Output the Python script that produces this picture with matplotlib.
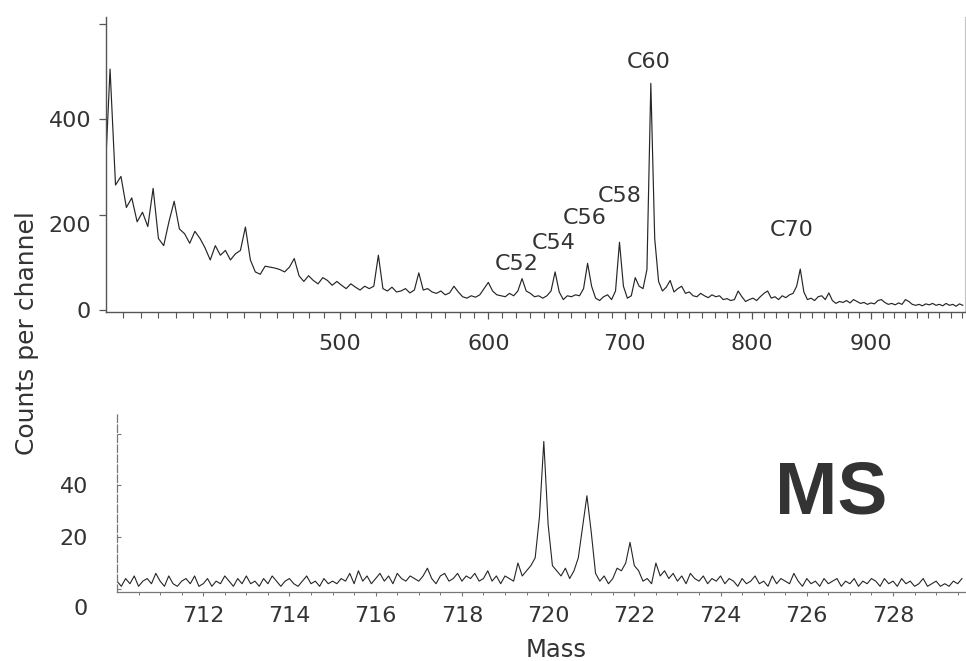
import numpy as np
import matplotlib
matplotlib.use("Agg")
import matplotlib.pyplot as plt
from matplotlib.ticker import FixedLocator, NullFormatter
from matplotlib.transforms import ScaledTranslation

# ---------------- data: full spectrum (mass 360 .. 981, every 3 u) ----------------
full_mass_start = 360
full_mass_step = 3
full_counts = [
    255, 505, 262, 280, 215, 235, 185, 205, 175, 255,   # 360-387
    150, 135, 185, 228, 170, 160, 140, 165, 150, 130,   # 390-417
    105, 135, 115, 125, 105, 118, 125, 174, 105, 80,    # 420-447
    75, 92, 90, 88, 85, 80, 90, 108, 72, 60,            # 450-477
    72, 62, 55, 68, 62, 52, 60, 52, 45, 55,             # 480-507
    48, 42, 50, 45, 50, 115, 45, 40, 48, 38,            # 510-537
    40, 45, 36, 42, 78, 42, 45, 38, 35, 40,             # 540-567
    32, 36, 50, 38, 28, 25, 30, 27, 32, 45,             # 570-597
    58, 40, 32, 30, 28, 35, 30, 40, 66, 40,             # 600-627
    35, 28, 30, 25, 30, 40, 80, 38, 22, 30,             # 630-657
    28, 32, 30, 45, 98, 50, 25, 20, 28, 32,             # 660-687
    22, 40, 142, 50, 25, 30, 68, 50, 45, 85,            # 690-717
    475, 150, 60, 40, 48, 62, 38, 45, 50, 35,           # 720-747
    38, 30, 28, 35, 30, 26, 32, 28, 30, 22,             # 750-777
    24, 20, 22, 40, 28, 18, 22, 25, 20, 28,             # 780-807
    35, 40, 25, 28, 22, 30, 26, 32, 35, 50,             # 810-837
    86, 38, 22, 25, 20, 28, 30, 22, 36, 20,             # 840-867
    14, 18, 16, 20, 15, 22, 18, 14, 16, 12,             # 870-897
    15, 13, 20, 22, 16, 12, 14, 11, 15, 12,             # 900-927
    22, 18, 12, 10, 12, 9, 13, 11, 14, 10,              # 930-957
    12, 9, 14, 10, 12, 8, 13, 10,                       # 960-981
]
full_mass = full_mass_start + full_mass_step * np.arange(len(full_counts))

peak_names = ["C52", "C54", "C56", "C58", "C60", "C70"]
peak_label_x = [620, 647, 670, 696, 718, 833]
peak_label_y = [96, 140, 193, 239, 519, 168]

top_major_ticks = [500, 600, 700, 800, 900]
top_yticks = [0, 200, 400, 600]
top_ylabels = ["0", "200", "400", ""]

# ---------------- data: expanded region around C60 (710.0 .. 729.6, every 0.1 u) ----------------
zoom_mass_start = 710.0
zoom_mass_step = 0.1
zoom_counts = [
    3, 1, 4, 2, 5, 1, 3, 4, 2, 6,      # 710
    3, 1, 5, 2, 1, 3, 4, 2, 5, 1,      # 711
    2, 4, 1, 3, 2, 5, 3, 1, 4, 2,      # 712
    5, 2, 3, 1, 4, 2, 5, 3, 1, 3,      # 713
    4, 2, 1, 3, 5, 2, 3, 1, 4, 2,      # 714
    3, 2, 4, 3, 6, 2, 7, 3, 5, 2,      # 715
    4, 6, 3, 5, 2, 6, 4, 3, 5, 4,      # 716
    3, 5, 8, 4, 2, 5, 6, 3, 4, 6,      # 717
    3, 5, 4, 6, 3, 4, 7, 3, 5, 2,      # 718
    5, 4, 3, 10, 5, 7, 9, 12, 28, 57,  # 719
    25, 9, 7, 5, 8, 4, 7, 12, 24, 36,  # 720
    22, 6, 3, 5, 2, 4, 8, 7, 10, 18,   # 721
    9, 7, 3, 4, 2, 10, 5, 7, 4, 6,     # 722
    3, 5, 2, 6, 4, 3, 5, 2, 4, 3,      # 723
    5, 2, 4, 3, 1, 4, 2, 3, 5, 2,      # 724
    3, 1, 5, 2, 4, 3, 2, 6, 3, 1,      # 725
    4, 2, 3, 1, 4, 2, 3, 4, 1, 3,      # 726
    2, 4, 1, 3, 2, 4, 3, 1, 4, 2,      # 727
    3, 1, 4, 2, 3, 1, 2, 4, 1, 2,      # 728
    3, 1, 2, 1, 3, 2, 4,               # 729
]
zoom_mass = zoom_mass_start + zoom_mass_step * np.arange(len(zoom_counts))

zoom_major_ticks = [712, 714, 716, 718, 720, 722, 724, 726, 728]
zoom_yticks = [0, 20, 40, 60]
zoom_ylabels = ["0", "20", "40", ""]

# ---------------- figure ----------------
W, H, DPI = 966, 661, 100
fig = plt.figure(figsize=(W / DPI, H / DPI), dpi=DPI)
fig.patch.set_facecolor("white")

TXT = "#333333"
AX = "#555555"
LINE = "#262626"
FS = 16


def fpos(x0, x1, ytop, ybot):
    return [x0 / W, 1 - ybot / H, (x1 - x0) / W, (ybot - ytop) / H]


# ---- top panel ----
ax1 = fig.add_axes(fpos(106.4, 965, 17, 312))
ax1.set_xscale("function", functions=(np.sqrt, np.square))
ax1.plot(full_mass, full_counts, color=LINE, lw=0.85)
ax1.set_xlim(361, 983)
ax1.set_ylim(-4, 614)

ax1.spines["top"].set_visible(False)
ax1.spines["right"].set_color("#c4c4c4")
ax1.spines["right"].set_linewidth(0.8)
for s in ["left", "bottom"]:
    ax1.spines[s].set_color(AX)
    ax1.spines[s].set_linewidth(1.0)

ax1.xaxis.set_major_locator(FixedLocator(top_major_ticks))
minor = [m for m in range(370, 990, 10) if m not in top_major_ticks]
ax1.xaxis.set_minor_locator(FixedLocator(minor))
ax1.xaxis.set_minor_formatter(NullFormatter())
ax1.set_xticklabels([str(t) for t in top_major_ticks])
ax1.tick_params(axis="x", which="major", direction="out", length=5, width=0.9,
                color=AX, pad=11, labelsize=FS, labelcolor=TXT)
ax1.tick_params(axis="x", which="minor", direction="out", length=4, width=0.8, color=AX)
ax1.set_yticks(top_yticks)
ax1.set_yticklabels(top_ylabels)
ax1.tick_params(axis="y", direction="out", length=5, width=0.9, color=AX,
                pad=6, labelsize=FS, labelcolor=TXT)
ax1.tick_params(axis="y", right=False)
lab200 = ax1.get_yticklabels()[1]
lab200.set_transform(lab200.get_transform() + ScaledTranslation(0, -0.09, fig.dpi_scale_trans))

for name, lx, ly in zip(peak_names, peak_label_x, peak_label_y):
    ax1.text(lx, ly, name, ha="center", va="center", fontsize=FS, color=TXT)

# ---- bottom panel ----
ax2 = fig.add_axes(fpos(117, 965, 413, 592))
ax2.plot(zoom_mass, zoom_counts, color=LINE, lw=0.8)
ax2.set_xlim(710, 729.67)
ax2.set_ylim(-1.2, 68)
for s in ["top", "right"]:
    ax2.spines[s].set_visible(False)
for s in ["left", "bottom"]:
    ax2.spines[s].set_color("#777777")
    ax2.spines[s].set_linewidth(0.9)
ax2.spines["left"].set_linestyle((0, (6, 2)))

ax2.xaxis.set_major_locator(FixedLocator(zoom_major_ticks))
ax2.xaxis.set_minor_locator(FixedLocator(list(np.arange(710.5, 729.6, 0.5))))
ax2.xaxis.set_minor_formatter(NullFormatter())
ax2.set_xticklabels([str(t) for t in zoom_major_ticks])
ax2.tick_params(axis="x", which="major", direction="out", length=3, width=0.8,
                color="#777777", pad=7, labelsize=FS, labelcolor=TXT)
ax2.tick_params(axis="x", which="minor", direction="out", length=2, width=0.7, color="#777777")
ax2.set_yticks(zoom_yticks)
ax2.set_yticklabels(zoom_ylabels)
ax2.tick_params(axis="y", direction="in", length=3, width=0.8, color="#777777",
                pad=21, labelsize=FS, labelcolor=TXT)
lab0 = ax2.get_yticklabels()[0]
lab0.set_transform(lab0.get_transform() + ScaledTranslation(0, -0.18, fig.dpi_scale_trans))

ax2.text(831 / W, 1 - 494 / H, "MS", transform=fig.transFigure, ha="center", va="center",
         fontsize=54, fontweight="bold", family="Liberation Sans", color="#333333")

# ---- axis titles ----
fig.text(27 / W, 1 - 333 / H, "Counts per channel", rotation=90, ha="center", va="center",
         fontsize=18, color=TXT)
fig.text(556 / W, 1 - 650 / H, "Mass", ha="center", va="center", fontsize=17.5, color=TXT)

fig.savefig("out.png", dpi=DPI, facecolor="white")
